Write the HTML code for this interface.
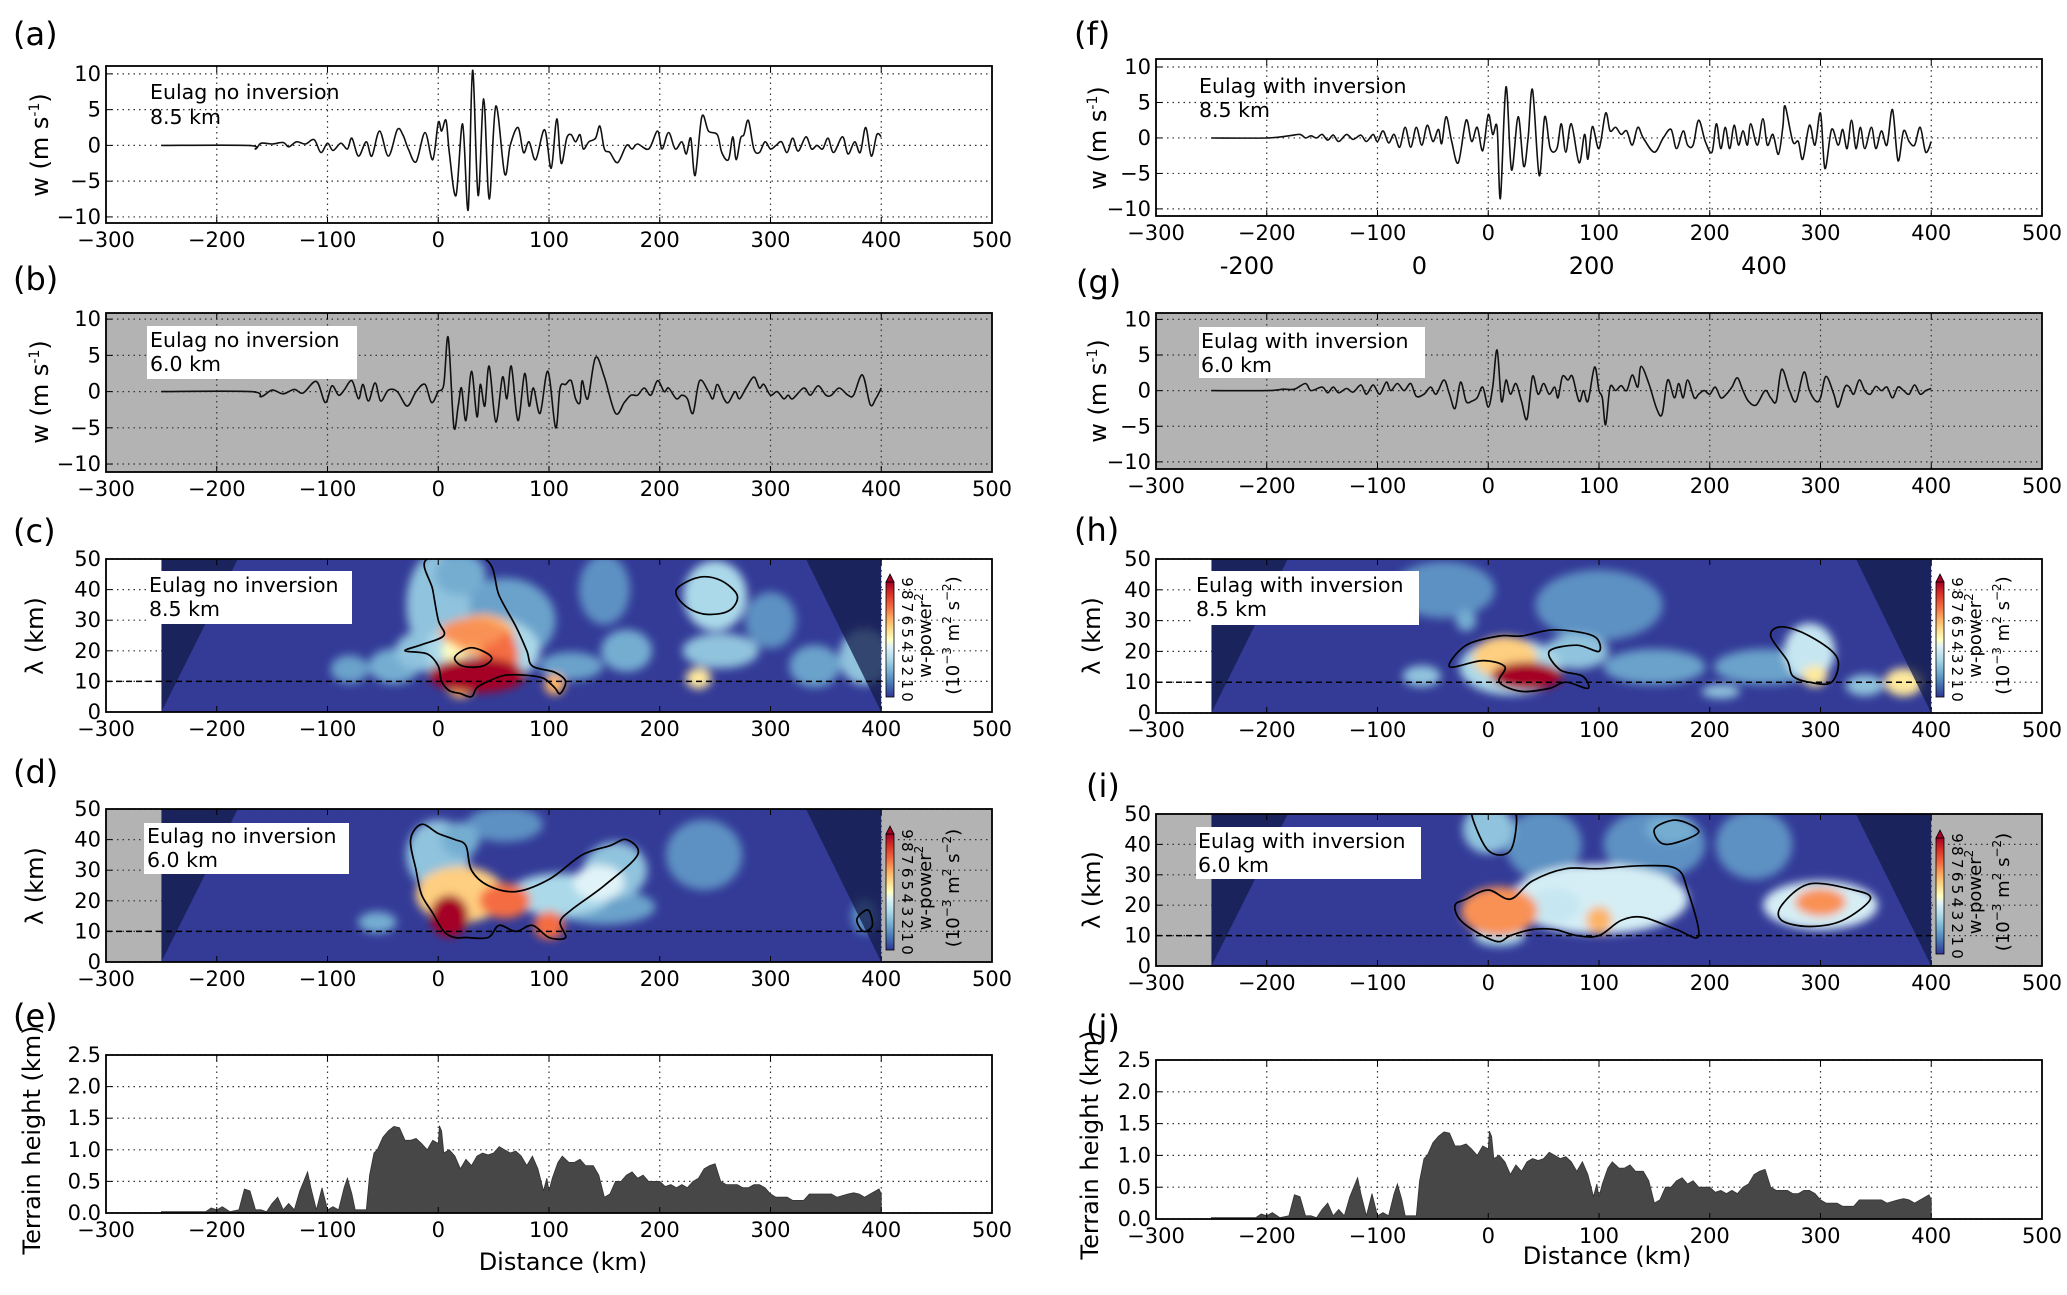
<!DOCTYPE html>
<html><head><meta charset="utf-8">
<style>
html,body{margin:0;padding:0;background:#fff;}
svg{display:block;font-family:"DejaVu Sans","Liberation Sans",sans-serif;}
</style></head>
<body>
<svg id="fig" width="2067" height="1295" viewBox="0 0 2067 1295" xmlns="http://www.w3.org/2000/svg">
<defs>
<filter id="blur" x="-50%" y="-50%" width="200%" height="200%"><feGaussianBlur stdDeviation="4.5"/></filter>
<linearGradient id="cbgrad" x1="0" y1="1" x2="0" y2="0">
<stop offset="0" stop-color="#313695"/><stop offset="0.11" stop-color="#4575b4"/><stop offset="0.22" stop-color="#74add1"/><stop offset="0.33" stop-color="#abd9e9"/><stop offset="0.44" stop-color="#e0f3f8"/><stop offset="0.5" stop-color="#ffffbf"/><stop offset="0.58" stop-color="#fee090"/><stop offset="0.68" stop-color="#fdae61"/><stop offset="0.78" stop-color="#f46d43"/><stop offset="0.9" stop-color="#d73027"/><stop offset="1" stop-color="#a50026"/>
</linearGradient>
</defs>
</svg>
<script>
// ---- data: vertical velocity series (distance km, w m/s) ----
const tsA_x=[-250,-172,-165,-160,-150,-140,-135,-128,-120,-112,-106,-100,-95,-88,-82,-78,-72,-65,-60,-53,-45,-37,-32,-27,-20,-12,-5,0,3,7,10,16,22,27,31,36,41,46,52,60,65,72,77,82,88,96,102,107,111,116,120,124,128,131,136,142,146,150,155,162,170,175,180,190,198,202,208,214,220,224,228,232,238,244,252,256,262,266,269,273,276,280,285,290,295,300,305,310,315,320,325,332,337,342,347,352,357,365,370,376,381,386,391,396,400];
const tsA_w=[0,0,-0.5,0.3,0.2,0.4,-0.2,0.5,0.2,0.8,-1,0.3,-0.7,0.3,-0.5,1,-1.5,0.5,-1.5,2,-1.5,2.2,1.5,-0.5,-2.3,1.8,-2,3.2,2,3.5,-1,-7,3,-9,10.5,-7,6.5,-7.5,5.5,-4,0,2.5,-1,0.5,-2,2.2,-3.2,3.7,-2.5,1,1.5,0.5,1.5,-0.5,0.5,1,2.7,-0.5,-1,-2.4,0,-0.5,0.2,-0.5,2,-0.5,1.8,-0.5,0.5,-1.2,1,-4.2,4,2,1.5,-1,-2,1.2,-2,1,1.5,3.5,-0.5,-1,0.5,-0.5,0,0.5,-1,1,-0.8,1.2,-0.5,0,-0.5,1,-1,1.2,-1.2,0.5,-1,2.5,-1.5,1.5,1.2];
const tsB_x=[-250,-170,-160,-150,-140,-130,-122,-110,-102,-96,-90,-85,-78,-72,-68,-63,-57,-52,-45,-37,-28,-20,-12,-6,0,5,9,14,18,21,25,30,35,38,42,46,52,58,62,66,72,78,82,86,92,99,106,110,115,120,124,128,130,135,142,150,160,168,174,180,186,192,198,204,208,215,220,225,230,236,244,248,252,258,262,268,272,278,285,290,294,300,306,312,316,320,330,336,343,350,355,362,370,375,383,390,395,400];
const tsB_w=[0,0,-0.7,0.2,-0.3,0.3,-0.2,1.4,-1.5,0.8,-0.5,0.2,1.5,-1,1,-1.3,1.2,-1.3,0.2,0,-2,0,1,-1.5,0,1,7.5,-4.8,-2,0.5,-4,2.8,-3.5,1,-2,3.5,-4.2,2,-1,3.5,-4,2.5,-2,0.5,-3,2.8,-5,0.5,1,1.5,-1,-1.5,1.5,-1,4.7,2,-3,-1.5,-0.5,-0.5,0.5,-0.5,1.5,0,0.5,-1,-0.5,-1,-3,1.5,0,-1,1,-1,-1.5,0,-1,0.5,2,0.5,1,-0.5,0,-1,-0.5,-1,0.5,-0.5,0.8,-0.5,-0.5,0.5,-0.5,-0.5,2.3,-1.8,-1,0.5];
const tsF_x=[-250,-200,-180,-170,-165,-160,-155,-150,-145,-140,-135,-128,-122,-115,-110,-104,-100,-95,-90,-85,-80,-75,-70,-65,-60,-55,-50,-45,-42,-38,-33,-27,-20,-15,-10,-5,0,4,8,11,16,21,27,32,36,40,46,51,56,62,66,70,75,82,87,90,94,100,106,110,115,120,125,130,135,140,150,158,165,170,176,180,185,190,196,202,206,210,214,218,222,226,230,234,237,243,248,252,257,262,266,268,275,280,284,290,295,300,304,310,316,320,324,328,332,336,340,346,350,355,360,365,370,375,380,385,390,395,400];
const tsF_w=[0,0,0.3,0.5,0,0.3,0,0.5,-0.3,0.4,-0.5,0.5,-0.2,0.4,-0.5,0.5,-0.5,1,-0.7,0.5,-1.3,1.5,-1.3,1.5,-1,1.8,-0.5,1.2,-0.8,3,-0.5,-3.5,2.5,-0.5,1.5,-1.8,3.3,0.5,1.5,-8.5,7.2,-4.5,3,-4,0,6.8,-5.3,3,-1.5,-1.5,2,-2,2,-3.5,0.5,-3,1.6,-1.5,3.5,1,1.5,0.5,1,-1,1.5,0,-2,0,1.2,-1.5,1,-1,-1,2.5,-0.5,-2,2,-1.5,1.5,-1.5,1.8,-1,1,-1,2,-1,2.7,-1,0.5,-2.3,1.5,4.5,-0.5,-0.5,-3,1.8,-1,3.5,-4.3,1.2,-1,1.2,-1.5,2.5,-1.5,1.5,-1.5,1.5,-1.5,1,-1,4,-3.2,1,-0.5,-1,1.5,-2,-0.5];
const tsG_x=[-250,-200,-185,-175,-165,-160,-150,-145,-140,-135,-128,-122,-115,-110,-104,-98,-92,-88,-82,-76,-70,-65,-58,-52,-47,-40,-35,-30,-25,-20,-15,-10,-5,0,4,8,12,16,20,25,30,35,40,45,50,55,60,63,67,72,76,82,86,90,96,100,103,106,110,115,120,125,130,135,138,145,152,157,162,168,172,176,180,186,190,195,200,205,210,215,220,225,230,235,242,250,255,260,265,272,278,285,290,296,300,305,312,316,322,326,330,335,340,345,350,355,360,365,370,375,380,385,390,395,400];
const tsG_w=[0,0,0.2,0.2,1,0,0.5,-0.3,0.5,-0.3,0.3,-0.2,0.8,-0.5,0.8,-0.5,1.2,0,1,0,1,-0.8,-0.5,0.5,-0.5,1.5,-0.5,-2.5,1.2,-1.5,-1.5,-1,0.5,-2.3,0.5,5.7,-1.5,1.5,-0.5,1,-1.5,-4,2,-0.5,1,-0.5,0.5,-1,2,1.5,2,-1.5,0,-1.5,3.3,0,-1,-4.8,0.5,0,0.7,0,2.2,0.5,3.4,1,-2.5,-3.3,1.5,-1,1,-1,1.5,-1,-0.5,0,-0.5,0.5,-1,-0.5,0.5,1.8,0,-1.5,-2,0,-1,-1.5,3,0,-1.5,2.6,0,-1.5,-1,2,-0.5,-2.3,0.5,0.5,-0.5,1.5,0,-0.5,0.6,0,0.5,-1,0.5,0,-0.5,0.8,-0.5,0,0.3];
// ---- data: terrain (distance km, height km) ----
const terr_x=[-250,-210,-205,-200,-195,-188,-180,-175,-170,-165,-160,-155,-150,-145,-140,-135,-130,-125,-118,-115,-110,-105,-100,-95,-90,-85,-82,-78,-75,-65,-62,-58,-55,-50,-45,-40,-35,-30,-25,-20,-15,-10,-5,0,1,3,5,10,15,20,25,30,35,40,45,50,55,60,65,70,75,80,85,90,95,98,100,103,108,112,118,123,128,133,140,145,150,155,160,165,170,175,180,185,190,200,205,210,215,220,225,230,235,240,245,250,255,260,270,275,280,285,290,295,300,305,315,320,330,335,355,360,370,375,380,385,390,395,398,400];
const terr_h=[0.02,0.02,0.08,0.05,0.1,0.02,0.05,0.38,0.35,0.05,0.05,0.02,0.15,0.25,0.05,0.15,0.05,0.35,0.65,0.4,0.05,0.4,0.05,0.1,0.05,0.4,0.55,0.3,0.05,0.05,0.6,0.95,1.0,1.2,1.3,1.37,1.35,1.15,1.15,1.18,1.1,1.0,1.15,1.1,1.38,1.3,0.95,1.0,0.9,0.7,0.85,0.75,0.9,0.95,0.92,0.95,1.05,1.0,0.95,0.98,0.9,0.75,0.9,0.7,0.35,0.55,0.35,0.55,0.8,0.9,0.8,0.8,0.85,0.75,0.75,0.6,0.25,0.3,0.5,0.5,0.6,0.65,0.55,0.6,0.5,0.5,0.42,0.45,0.4,0.45,0.4,0.5,0.55,0.7,0.75,0.78,0.5,0.45,0.45,0.4,0.4,0.45,0.45,0.4,0.3,0.25,0.25,0.2,0.2,0.3,0.3,0.25,0.3,0.32,0.3,0.25,0.3,0.35,0.38,0.3];
// ---- data: wavelet power blobs [x km, lambda km, half-width km, half-height km, power] ----
const blobC_x=[-80,-40,150,300,170,340,120,60,-10,0,20,255,250,385,40,15,40,55,20,105,235,35,30];
const blobC_l=[14,15,40,30,20,15,15,30,20,35,45,20,38,18,20,20,25,18,8,9,11,12,26];
const blobC_rx=[15,20,20,20,20,20,25,40,25,25,20,30,25,20,45,10,25,15,10,8,10,38,25];
const blobC_ry=[4,5,10,8,6,6,4,12,6,15,6,5,10,8,10,4,6,8,3,3,3,5,4];
const blobC_v=[1.8,2,1.5,1.5,2,1.8,1.8,1.8,2.5,2.5,2,2.5,3,2.5,3,4.5,6,7,6,6,5,9.5,6.5];
const blobD_x=[240,60,385,-55,150,0,20,160,110,145,20,60,100,10];
const blobD_l=[35,45,15,13,18,35,40,30,22,26,22,20,12,15];
const blobD_rx=[30,30,10,15,40,25,15,25,40,20,35,20,12,15];
const blobD_ry=[10,5,5,3,5,10,5,8,6,5,8,5,4,6];
const blobD_v=[1.5,1.5,1.5,2,1.8,2.5,2,2.5,3,4,5.5,7,7,9];
const blobH_x=[100,-40,150,250,-60,-20,80,210,340,20,290,15,295,375,35];
const blobH_l=[35,40,15,15,12,30,20,7,9,15,20,18,12,10,12];
const blobH_rx=[50,40,40,40,15,8,25,15,15,40,20,25,10,15,28];
const blobH_ry=[10,8,5,5,3,3,5,2,3,8,8,6,3,4,4];
const blobH_v=[1.5,1.5,1.8,1.8,2.5,2,2.5,2.5,2.5,3,3.5,5.5,5,5,9.5];
const blobI_x=[150,50,240,165,0,10,100,60,300,10,100,300];
const blobI_l=[40,40,40,45,45,10,22,20,20,18,15,21];
const blobI_rx=[40,30,30,20,20,20,70,20,45,30,10,20];
const blobI_ry=[10,10,10,4,7,3,10,5,7,7,4,4];
const blobI_v=[1.5,1.5,1.5,2,2.5,3,3.8,3.5,3.8,6.5,6,6.5];
// ---- data: contour outlines [x km, lambda km] ----
const contC1_x=[-10,-5,0,5,-15,-30,-10,0,3,10,20,30,35,45,60,80,95,105,110,115,105,85,80,70,55,42];
const contC1_l=[50,40,30,25,22,20,19,15,10,7,6,5,8,10,12,12,11,8,6,10,13,15,20,28,38,50];
const contC2_x=[215,235,255,270,262,240,222];
const contC2_l=[40,44,43,38,33,32,35];
const contC3_x=[15,30,48,40,22];
const contC3_l=[18,21,18,15,15];
const contD1_x=[-15,0,15,25,30,45,70,100,130,155,170,180,150,120,110,115,100,85,70,55,45,25,15,5,-5,-15,-20,-25];
const contD1_l=[45,42,40,38,30,25,23,27,35,38,40,35,25,17,13,8,8,12,10,12,8,8,8,10,16,22,30,40];
const contD2_x=[378,388,392,384];
const contD2_l=[14,17,12,10];
const contH1_x=[-35,-20,10,30,60,95,100,80,55,65,85,90,70,55,30,10,15,-5];
const contH1_l=[15,22,25,25,27,25,20,22,20,14,12,8,10,8,7,10,15,17];
const contH2_x=[255,265,290,315,310,290,275,270];
const contH2_l=[25,28,25,18,10,10,12,17];
const contI1_x=[-30,-20,0,20,40,70,100,140,170,180,190,170,140,120,100,80,60,40,20,10,-5,-25];
const contI1_l=[20,22,25,22,28,32,32,33,32,25,10,12,16,15,10,10,12,12,10,8,10,15];
const contI2_x=[265,290,330,345,320,290,265];
const contI2_l=[20,27,25,22,15,13,15];
const contI3_x=[-15,0,20,25,10,-5];
const contI3_l=[50,38,38,50,50,50];
const contI4_x=[150,170,190,160];
const contI4_l=[45,48,44,40];
const xTicks=[-300,-200,-100,0,100,200,300,400,500];
const wTicks=[-10,-5,0,5,10];
const lamTicks=[0,10,20,30,40,50];
const terrTicks=[0,0.5,1.0,1.5,2.0,2.5];
const cbTicks=[0,1,2,3,4,5,6,7,8,9];
const extraTicks=[-200,0,200,400];

const NS='http://www.w3.org/2000/svg';
const svg=document.getElementById('fig');
const W=886;
function mk(tag,attrs,parent){const e=document.createElementNS(NS,tag);for(const k in attrs)e.setAttribute(k,attrs[k]);(parent||svg).appendChild(e);return e;}
function fmt(v){return (v<0?'\u2212':'')+Math.abs(v);}
function cmap(v){
  const st=[[0,[49,54,149]],[1,[69,117,180]],[2,[116,173,209]],[3,[171,217,233]],[4,[224,243,248]],[4.5,[255,255,191]],[5.2,[254,224,144]],[6.1,[253,174,97]],[7,[244,109,67]],[8,[215,48,39]],[9,[165,0,38]]];
  if(v>=9)return 'rgb(165,0,38)';
  for(let i=0;i<st.length-1;i++){if(v<=st[i+1][0]){const t=(v-st[i][0])/(st[i+1][0]-st[i][0]);const a=st[i][1],b=st[i+1][1];return 'rgb('+a.map((c,j)=>Math.round(c+(b[j]-c)*t)).join(',')+')';}}
  return 'rgb(165,0,38)';
}
function smooth(pts,closed){
  let d='M'+pts[0][0].toFixed(1)+','+pts[0][1].toFixed(1);const n=pts.length;
  const last=closed?n:n-1;
  for(let i=0;i<last;i++){
    const p0=pts[closed?(i-1+n)%n:Math.max(i-1,0)],p1=pts[i],p2=pts[(i+1)%n],p3=pts[closed?(i+2)%n:Math.min(i+2,n-1)];
    const c1=[p1[0]+(p2[0]-p0[0])/6,p1[1]+(p2[1]-p0[1])/6],c2=[p2[0]-(p3[0]-p1[0])/6,p2[1]-(p3[1]-p1[1])/6];
    d+='C'+c1[0].toFixed(1)+','+c1[1].toFixed(1)+' '+c2[0].toFixed(1)+','+c2[1].toFixed(1)+' '+p2[0].toFixed(1)+','+p2[1].toFixed(1);
  }
  return d+(closed?'Z':'');
}
function axes(cfg){
  const g=mk('g',{});
  
  
  cfg.X=d=>cfg.L+(d+300)/800*W;
  cfg.Y=v=>cfg.bot-(v-cfg.lo)/(cfg.hi-cfg.lo)*(cfg.bot-cfg.top);
  const bg=mk('rect',{x:cfg.L,y:cfg.top,width:W,height:cfg.bot-cfg.top,fill:cfg.bg},g);
  
  
  cfg.g=g;
  return g;
}
function grid(cfg,yt){
  const gg=mk('g',{stroke:'#333','stroke-width':1.2,'stroke-dasharray':'1.5,4'},cfg.g);
  
  
  xTicks.forEach(t=>{const x=cfg.X(t);mk('line',{x1:x,x2:x,y1:cfg.top,y2:cfg.bot},gg);});
  yt.forEach(t=>{const y=cfg.Y(t);mk('line',{x1:cfg.L,x2:cfg.L+W,y1:y,y2:y},gg);});
}
function frame(cfg,yt,yfmt){
  const g=cfg.g;
  const fr=mk('rect',{x:cfg.L,y:cfg.top,width:W,height:cfg.bot-cfg.top,fill:'none',stroke:'#000','stroke-width':1.8},g);
  
  
  const xt=mk('g',{'font-size':21,'text-anchor':'middle',fill:'#000'},g);
  
  
  xTicks.forEach(t=>{const x=cfg.X(t);mk('line',{x1:x,x2:x,y1:cfg.bot,y2:cfg.bot-6,stroke:'#000','stroke-width':1},g);mk('line',{x1:x,x2:x,y1:cfg.top,y2:cfg.top+6,stroke:'#000','stroke-width':1},g);const tx=mk('text',{x:x,y:cfg.bot+24},xt);tx.textContent=fmt(t);});
  const ytg=mk('g',{'font-size':21,'text-anchor':'end',fill:'#000'},g);
  
  
  yt.forEach(t=>{const y=cfg.Y(t);mk('line',{x1:cfg.L,x2:cfg.L+6,y1:y,y2:y,stroke:'#000','stroke-width':1},g);const tx=mk('text',{x:cfg.L-5,y:y+7},ytg);tx.textContent=yfmt?yfmt(t):fmt(t);});
}
function ylabel(x,y,html,name){
  const t=mk('text',{x:0,y:0,'font-size':24,'text-anchor':'middle',transform:'translate('+x+','+y+') rotate(-90)'});
  
  
  t.innerHTML=html;
}
function panelLabel(x,y,s){
  const t=mk('text',{x:x,y:y,'font-size':32});
  
  
  t.textContent='('+s+')';
}
function annot(box,tx,b1,b2,l1,l2,name){
  const g=mk('g',{});
  
  
  if(box)mk('rect',{x:box[0],y:box[1],width:box[2]-box[0],height:box[3]-box[1],fill:'#fff'},g);
  const a=mk('text',{x:tx,y:b1,'font-size':20.5},g);a.textContent=l1;
  const b=mk('text',{x:tx,y:b2,'font-size':20.5},g);b.textContent=l2;
}
function tsPanel(cfg,xs,ws){
  axes(cfg);grid(cfg,wTicks);
  const pts=xs.map((x,i)=>[cfg.X(x),cfg.Y(ws[i])]);
  const p=mk('path',{d:smooth(pts,false),fill:'none',stroke:'#111','stroke-width':1.6,'stroke-linejoin':'round'},cfg.g);
  
  
  frame(cfg,wTicks);
}
let clipN=0;
function heatPanel(cfg,bx,bl,brx,bry,bv,conts,cb){
  axes(cfg);grid(cfg,lamTicks);
  const x0=cfg.X(-250),x1=cfg.X(400);
  const id='clip'+(clipN++);
  const cp=mk('clipPath',{id:id},cfg.g);mk('rect',{x:x0,y:cfg.top,width:x1-x0,height:cfg.bot-cfg.top},cp);
  const hg=mk('g',{'clip-path':'url(#'+id+')'},cfg.g);
  
  
  mk('rect',{x:x0,y:cfg.top,width:x1-x0,height:cfg.bot-cfg.top,fill:'#333b97'},hg);
  const bg=mk('g',{filter:'url(#blur)'},hg);
  const kx=W/800*1.15,ky=(cfg.bot-cfg.top)/50*1.15;
  bx.forEach((x,i)=>{
    const e=mk('ellipse',{cx:cfg.X(x),cy:cfg.Y(bl[i]),rx:brx[i]*kx,ry:bry[i]*ky,fill:cmap(bv[i])},bg);
    
    
  });
  const t1=mk('polygon',{points:[[cfg.X(-250),cfg.Y(0)],[cfg.X(-250),cfg.Y(50)],[cfg.X(-181),cfg.Y(50)]].join(' '),fill:'#141c4a','fill-opacity':0.75},hg);
  
  
  const t2=mk('polygon',{points:[[cfg.X(400),cfg.Y(0)],[cfg.X(400),cfg.Y(50)],[cfg.X(332),cfg.Y(50)]].join(' '),fill:'#141c4a','fill-opacity':0.75},hg);
  
  
  conts.forEach(c=>{
    const pts=c[0].map((x,i)=>[cfg.X(x),cfg.Y(c[1][i])]);
    const p=mk('path',{d:smooth(pts,true),fill:'none',stroke:'#000','stroke-width':1.7},hg);
    
    
  });
  const dl=mk('line',{x1:cfg.L,x2:x1,y1:cfg.Y(10),y2:cfg.Y(10),stroke:'#000','stroke-width':1.5,'stroke-dasharray':'6,4'},cfg.g);
  
  
  const cg=mk('g',{},cfg.g);
  
  
  const cx=cb[0],ct=cb[1],cbt=cb[2],cw=8;
  mk('rect',{x:cx,y:ct+8,width:cw,height:cbt-ct-8,fill:'url(#cbgrad)',stroke:'#000','stroke-width':0.8},cg);
  mk('polygon',{points:cx+','+(ct+8)+' '+(cx+cw)+','+(ct+8)+' '+(cx+cw/2)+','+ct,fill:'#a50026',stroke:'#000','stroke-width':0.8},cg);
  cbTicks.forEach(t=>{const y=cbt-(t/9)*(cbt-ct-8);const tx=mk('text',{x:0,y:0,'font-size':15,'text-anchor':'middle',transform:'translate('+(cx+16)+','+y+') rotate(90)'},cg);tx.textContent=t;});
  const l1=mk('text',{x:0,y:0,'font-size':18,'text-anchor':'middle',transform:'translate('+(cx+45)+','+(ct+cbt)/2+') rotate(-90)'},cg);
  l1.innerHTML='w-power<tspan font-size="12" dy="-8">2</tspan>';
  const l2=mk('text',{x:0,y:0,'font-size':18,'text-anchor':'middle',transform:'translate('+(cx+73)+','+(ct+cbt)/2+') rotate(-90)'},cg);
  l2.innerHTML='(10<tspan font-size="12" dy="-8">\u22123</tspan><tspan dy="8"> m</tspan><tspan font-size="12" dy="-8">2</tspan><tspan dy="8"> s</tspan><tspan font-size="12" dy="-8">\u22122</tspan><tspan dy="8">)</tspan>';
  frame(cfg,lamTicks);
}
function terrPanel(cfg){
  axes(cfg);grid(cfg,terrTicks);
  const pts=terr_x.map((x,i)=>cfg.X(x).toFixed(1)+','+cfg.Y(terr_h[i]).toFixed(1));
  const p=mk('polygon',{points:cfg.X(-250)+','+cfg.Y(0)+' '+pts.join(' ')+' '+cfg.X(400)+','+cfg.Y(0),fill:'#474747',stroke:'#333','stroke-width':0.8},cfg.g);
  
  
  frame(cfg,terrTicks,t=>t.toFixed(1));
}
const WL='w (m s<tspan font-size="14" dy="-9">-1</tspan><tspan dy="9">)</tspan>';
tsPanel({name:'panel-a',L:106,top:66,bot:223,lo:-10.85,hi:11.1,bg:'#fff'},tsA_x,tsA_w);
tsPanel({name:'panel-b',L:106,top:313,bot:472,lo:-11.1,hi:10.85,bg:'#b3b3b3'},tsB_x,tsB_w);
heatPanel({name:'panel-c',L:106,top:559,bot:712,lo:0,hi:50,bg:'#fff'},blobC_x,blobC_l,blobC_rx,blobC_ry,blobC_v,[[contC1_x,contC1_l],[contC2_x,contC2_l],[contC3_x,contC3_l]],[886,574,697]);
heatPanel({name:'panel-d',L:106,top:809,bot:962,lo:0,hi:50,bg:'#b3b3b3'},blobD_x,blobD_l,blobD_rx,blobD_ry,blobD_v,[[contD1_x,contD1_l],[contD2_x,contD2_l]],[886,826,950]);
terrPanel({name:'panel-e',L:106,top:1055,bot:1213,lo:0,hi:2.5,bg:'#fff'});
tsPanel({name:'panel-f',L:1156,top:59,bot:216,lo:-11,hi:11.13,bg:'#fff'},tsF_x,tsF_w);
tsPanel({name:'panel-g',L:1156,top:313,bot:469,lo:-11,hi:10.9,bg:'#b3b3b3'},tsG_x,tsG_w);
heatPanel({name:'panel-h',L:1156,top:559,bot:713,lo:0,hi:50,bg:'#fff'},blobH_x,blobH_l,blobH_rx,blobH_ry,blobH_v,[[contH1_x,contH1_l],[contH2_x,contH2_l]],[1936,574,697]);
heatPanel({name:'panel-i',L:1156,top:814,bot:966,lo:0,hi:50,bg:'#b3b3b3'},blobI_x,blobI_l,blobI_rx,blobI_ry,blobI_v,[[contI1_x,contI1_l],[contI2_x,contI2_l],[contI3_x,contI3_l],[contI4_x,contI4_l]],[1936,830,954]);
terrPanel({name:'panel-j',L:1156,top:1060,bot:1219,lo:0,hi:2.5,bg:'#fff'});
annot(null,150,99,124,'Eulag no inversion','8.5 km','annotation-a');
annot([147,326,357,379],150,347,371,'Eulag no inversion','6.0 km','annotation-b');
annot([146,571,352,624],149,592,616,'Eulag no inversion','8.5 km','annotation-c');
annot([144,823,349,874],147,843,867,'Eulag no inversion','6.0 km','annotation-d');
annot(null,1199,93,117,'Eulag with inversion','8.5 km','annotation-f');
annot([1199,327,1425,378],1201,348,372,'Eulag with inversion','6.0 km','annotation-g');
annot([1194,571,1419,625],1196,592,616,'Eulag with inversion','8.5 km','annotation-h');
annot([1196,827,1421,879],1198,848,872,'Eulag with inversion','6.0 km','annotation-i');
panelLabel(13,45,'a');panelLabel(13,290,'b');panelLabel(13,542,'c');panelLabel(13,783,'d');panelLabel(13,1027,'e');
panelLabel(1074,45,'f');panelLabel(1076,293,'g');panelLabel(1074,541,'h');panelLabel(1086,797,'i');panelLabel(1086,1038,'j');
ylabel(48,145,WL,'y-axis-title-a');ylabel(48,392,WL,'y-axis-title-b');
ylabel(1106,138,WL,'y-axis-title-f');ylabel(1106,391,WL,'y-axis-title-g');
ylabel(43,636,'\u03bb (km)','y-axis-title-c');ylabel(43,886,'\u03bb (km)','y-axis-title-d');
ylabel(1100,636,'\u03bb (km)','y-axis-title-h');ylabel(1100,890,'\u03bb (km)','y-axis-title-i');
ylabel(40,1140,'Terrain height (km)','y-axis-title-e');ylabel(1098,1145,'Terrain height (km)','y-axis-title-j');
const xl1=mk('text',{x:563,y:1270,'font-size':24,'text-anchor':'middle'});xl1.textContent='Distance (km)';


const xl2=mk('text',{x:1607,y:1264,'font-size':24,'text-anchor':'middle'});xl2.textContent='Distance (km)';


const eg=mk('g',{'font-size':24,'text-anchor':'middle'});


extraTicks.forEach(t=>{const x=1247+(t+200)/600*517;const tx=mk('text',{x:x,y:274},eg);tx.textContent=String(t);});
</script>
</body></html>
